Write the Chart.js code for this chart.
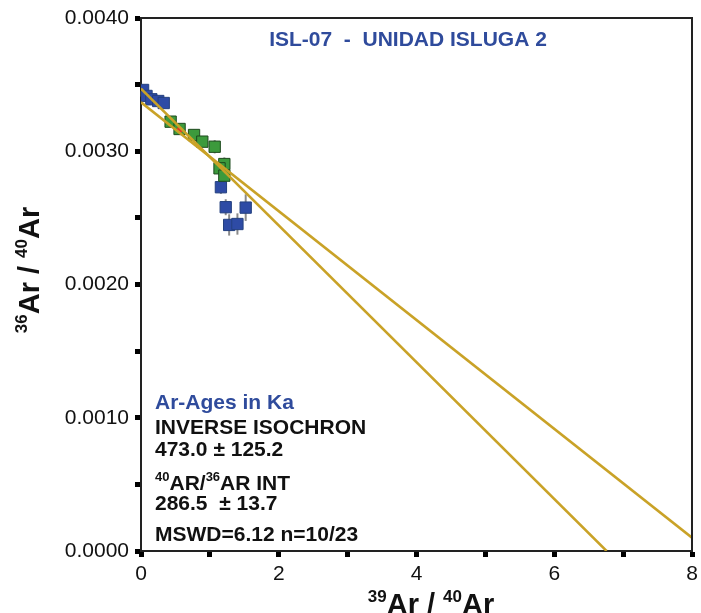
<!DOCTYPE html>
<html>
<head>
<meta charset="utf-8">
<script src="https://cdn.jsdelivr.net/npm/chart.js@4"></script>
<style>
  html, body { margin: 0; padding: 0; background: #fff; }
  #wrap { width: 701px; height: 613px; }
</style>
</head>
<body>
<div id="wrap"><canvas id="isochron" width="701" height="613"></canvas></div>
<script>
// measured points (39Ar/40Ar, 36Ar/40Ar) and 1-sigma errors on y
const blueX = [0.01, 0.03, 0.08, 0.15, 0.25, 0.33, 1.16, 1.23, 1.28, 1.40, 1.52];
const blueY = [0.00343, 0.00346, 0.003415, 0.00339, 0.003377, 0.003362, 0.00273, 0.00258, 0.002447, 0.002454, 0.002577];
const blueErr = [0.00002, 0.00002, 0.00002, 0.00002, 0.00002, 0.00002, 0.00005, 0.00006, 0.00008, 0.00008, 0.0001];

const greenX = [0.43, 0.56, 0.77, 0.89, 1.07, 1.21, 1.14, 1.21];
const greenY = [0.003222, 0.003167, 0.003122, 0.003072, 0.003034, 0.002904, 0.002872, 0.002817];
const greenErr = [0.00003, 0.00003, 0.00004, 0.00004, 0.00005, 0.00005, 0.00004, 0.00004];

const redX = [0.56];
const redY = [0.00316];

// regression lines (end points)
const lineAX = [0, 6.76];
const lineAY = [0.00347, 0];
const lineBX = [0, 8];
const lineBY = [0.003367, 0.0001];

const xTicks = [0, 2, 4, 6, 8];
const yTicks = [0, 0.001, 0.002, 0.003, 0.004];

const pts = (xs, ys) => xs.map((x, i) => ({ x: x, y: ys[i] }));

// draws text runs where some pieces are superscripts
function richText(ctx, parts, x, y, size, color) {
  let cx = x;
  parts.forEach(p => {
    const s = p.sup ? Math.round(size * 0.6) : size;
    ctx.font = 'bold ' + s + 'px "Liberation Sans", Arial, sans-serif';
    ctx.fillStyle = color;
    ctx.fillText(p.t, cx, p.sup ? y - size * 0.42 : y);
    cx += ctx.measureText(p.t).width;
  });
  return cx - x;
}
function richWidth(ctx, parts, size) {
  let w = 0;
  parts.forEach(p => {
    const s = p.sup ? Math.round(size * 0.6) : size;
    ctx.font = 'bold ' + s + 'px "Liberation Sans", Arial, sans-serif';
    w += ctx.measureText(p.t).width;
  });
  return w;
}

const errorBars = {
  id: 'errorBars',
  beforeDatasetsDraw(chart) {
    const ctx = chart.ctx, xs = chart.scales.x, ys = chart.scales.y;
    ctx.save();
    ctx.strokeStyle = '#8a8a8a';
    ctx.lineWidth = 2;
    [[blueX, blueY, blueErr], [greenX, greenY, greenErr]].forEach(([X, Y, E]) => {
      X.forEach((x, i) => {
        const px = xs.getPixelForValue(x);
        ctx.beginPath();
        ctx.moveTo(px, ys.getPixelForValue(Y[i] + E[i]));
        ctx.lineTo(px, ys.getPixelForValue(Y[i] - E[i]));
        ctx.stroke();
      });
    });
    ctx.restore();
  }
};

const frameAndText = {
  id: 'frameAndText',
  afterDraw(chart) {
    const ctx = chart.ctx, a = chart.chartArea;
    ctx.save();
    ctx.strokeStyle = '#222';
    ctx.lineWidth = 2;
    ctx.beginPath();
    ctx.moveTo(a.left, a.top);
    ctx.lineTo(a.right, a.top);
    ctx.lineTo(a.right, a.bottom);
    ctx.stroke();

    ctx.textBaseline = 'alphabetic';
    ctx.textAlign = 'left';
    const blue = '#2f4b9c';

    // title
    ctx.font = 'bold 21px "Liberation Sans", Arial, sans-serif';
    ctx.fillStyle = blue;
    ctx.textAlign = 'center';
    ctx.fillText('ISL-07  -  UNIDAD ISLUGA 2', 408, 46);
    ctx.textAlign = 'left';

    // annotation block
    const f = 21;
    ctx.font = 'bold ' + f + 'px "Liberation Sans", Arial, sans-serif';
    ctx.fillStyle = blue;
    ctx.fillText('Ar-Ages in Ka', 155, 409);
    ctx.fillStyle = '#111';
    ctx.fillText('INVERSE ISOCHRON', 155, 434);
    ctx.fillText('473.0 \u00b1 125.2', 155, 456);
    richText(ctx, [{ t: '40', sup: true }, { t: 'AR/' }, { t: '36', sup: true }, { t: 'AR INT' }], 155, 490, f, '#111');
    ctx.font = 'bold ' + f + 'px "Liberation Sans", Arial, sans-serif';
    ctx.fillText('286.5  \u00b1 13.7', 155, 510);
    ctx.fillText('MSWD=6.12 n=10/23', 155, 541);

    // axis titles
    const tSize = 29;
    const xt = [{ t: '39', sup: true }, { t: 'Ar / ' }, { t: '40', sup: true }, { t: 'Ar' }];
    const xw = richWidth(ctx, xt, tSize);
    richText(ctx, xt, 431 - xw / 2, 614, tSize, '#111');

    const yt = [{ t: '36', sup: true }, { t: 'Ar / ' }, { t: '40', sup: true }, { t: 'Ar' }];
    const yw = richWidth(ctx, yt, tSize);
    ctx.translate(39, 270);
    ctx.rotate(-Math.PI / 2);
    richText(ctx, yt, -yw / 2, 0, tSize, '#111');
    ctx.restore();
  }
};

new Chart(document.getElementById('isochron').getContext('2d'), {
  type: 'scatter',
  data: {
    datasets: [
      {
        label: 'line A',
        data: pts(lineAX, lineAY),
        showLine: true,
        borderColor: '#c9a227',
        borderWidth: 2.5,
        pointRadius: 0,
        order: 0
      },
      {
        label: 'line B',
        data: pts(lineBX, lineBY),
        showLine: true,
        borderColor: '#c9a227',
        borderWidth: 2.5,
        pointRadius: 0,
        order: 0
      },
      {
        label: 'red',
        data: pts(redX, redY),
        pointStyle: 'circle',
        pointRadius: 3,
        backgroundColor: '#e03a2a',
        borderWidth: 0,
        order: 1
      },
      {
        label: 'green',
        data: pts(greenX, greenY),
        pointStyle: 'rect',
        pointRadius: 8,
        backgroundColor: '#3c9a3c',
        borderColor: '#1d4a1d',
        borderWidth: 1,
        order: 2
      },
      {
        label: 'blue',
        data: pts(blueX, blueY),
        pointStyle: 'rect',
        pointRadius: 8,
        backgroundColor: '#2e4ba5',
        borderColor: '#24407f',
        borderWidth: 1,
        order: 3
      }
    ]
  },
  options: {
    responsive: false,
    animation: false,
    layout: { padding: { left: 0, right: 9, top: 18, bottom: 0 } },
    plugins: { legend: { display: false }, tooltip: { enabled: false } },
    scales: {
      x: {
        type: 'linear',
        min: 0,
        max: 8,
        afterFit: s => { s.height = 62; s.paddingLeft = 0; s.paddingRight = 0; },
        ticks: {
          stepSize: 1,
          color: '#111',
          padding: 5,
          font: { size: 21, family: '"Liberation Sans", Arial, sans-serif' },
          callback: v => (xTicks.includes(v) ? String(v) : '')
        },
        grid: { drawOnChartArea: false, tickColor: '#000', tickLength: 6, tickWidth: 5 },
        border: { color: '#222', width: 2 }
      },
      y: {
        type: 'linear',
        min: 0,
        max: 0.004,
        afterFit: s => { s.width = 141; s.paddingTop = 0; s.paddingBottom = 0; },
        ticks: {
          stepSize: 0.0005,
          color: '#111',
          padding: 6,
          font: { size: 21, family: '"Liberation Sans", Arial, sans-serif' },
          callback: v => (yTicks.some(t => Math.abs(t - v) < 1e-9) ? v.toFixed(4) : '')
        },
        grid: { drawOnChartArea: false, tickColor: '#000', tickLength: 6, tickWidth: 5 },
        border: { color: '#222', width: 2 }
      }
    }
  },
  plugins: [errorBars, frameAndText]
});
</script>
</body>
</html>
